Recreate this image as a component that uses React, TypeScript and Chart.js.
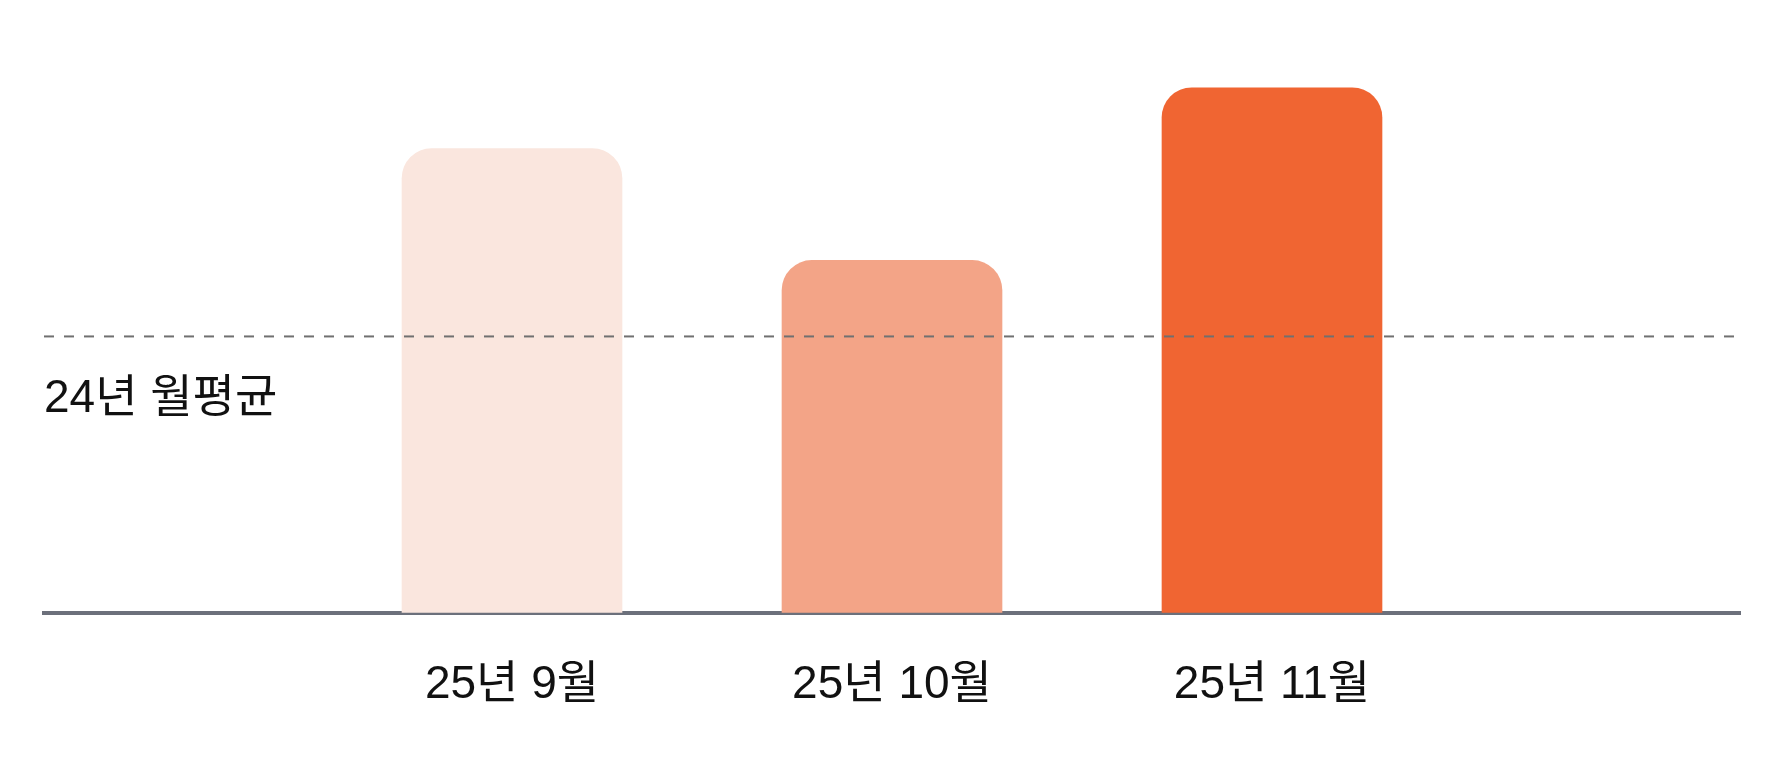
import React, { useEffect, useRef } from "react";
import { Chart, registerables } from "chart.js";

Chart.register(...registerables);

const categories = ["25년 9월", "25년 10월", "25년 11월"];
const categoryPositions = [1, 2, 3];
const values = [168, 127.5, 190];
const barColors = ["#FAE6DE", "#F3A487", "#F06532"];
const averageValue = 100;
const averageLabel = "24년 월평균";

const FONT_FAMILY = '"Liberation Sans", "Noto Sans CJK KR", sans-serif';

const averagePlugin = {
  id: "averageLine",
  afterDatasetsDraw(chart: any) {
    const { ctx, chartArea, scales } = chart;
    const y = scales.y.getPixelForValue(averageValue);
    ctx.save();
    ctx.beginPath();
    ctx.setLineDash([10, 10]);
    ctx.lineWidth = 2;
    ctx.strokeStyle = "#707070";
    ctx.moveTo(chartArea.left, y);
    ctx.lineTo(chartArea.right, y);
    ctx.stroke();
    ctx.setLineDash([]);
    ctx.fillStyle = "#111111";
    ctx.font = `46px ${FONT_FAMILY}`;
    ctx.textAlign = "left";
    ctx.textBaseline = "alphabetic";
    ctx.fillText(averageLabel, chartArea.left, y + 76);
    ctx.restore();
  },
};

export default function App() {
  const canvasRef = useRef<HTMLCanvasElement | null>(null);

  useEffect(() => {
    if (!canvasRef.current) return;
    const chart = new Chart(canvasRef.current, {
      type: "bar",
      data: {
        datasets: [
          {
            data: categoryPositions.map((x, i) => ({ x, y: values[i] })),
            backgroundColor: barColors,
            borderRadius: 30,
            borderSkipped: "start",
            barThickness: 220,
          },
        ],
      },
      options: {
        animation: false,
        responsive: true,
        maintainAspectRatio: false,
        devicePixelRatio: 1,
        layout: { padding: { left: 44, right: 50, top: 20, bottom: 0 } },
        plugins: {
          legend: { display: false },
          tooltip: { enabled: false },
        },
        scales: {
          x: {
            type: "linear",
            offset: false,
            min: -0.2316,
            max: 4.2316,
            z: 1,
            afterBuildTicks: (scale: any) => {
              scale.ticks = categoryPositions.map((v) => ({ value: v }));
            },
            ticks: {
              autoSkip: false,
              maxRotation: 0,
              padding: 45,
              color: "#111111",
              font: { family: FONT_FAMILY, size: 46 },
              callback: (value: any) => {
                const idx = categoryPositions.indexOf(Number(value));
                return idx >= 0 ? categories[idx] : "";
              },
            },
            grid: { display: false, drawTicks: false },
            border: { display: true, color: "#6C707B", width: 4 },
          },
          y: {
            display: false,
            min: 0,
            max: 214.5,
          },
        },
      },
      plugins: [averagePlugin],
    } as any);
    return () => chart.destroy();
  }, []);

  return (
    <div style={{ position: "fixed", left: 0, top: 0, width: 1790, height: 758, background: "#ffffff" }}>
      <canvas ref={canvasRef} />
    </div>
  );
}
